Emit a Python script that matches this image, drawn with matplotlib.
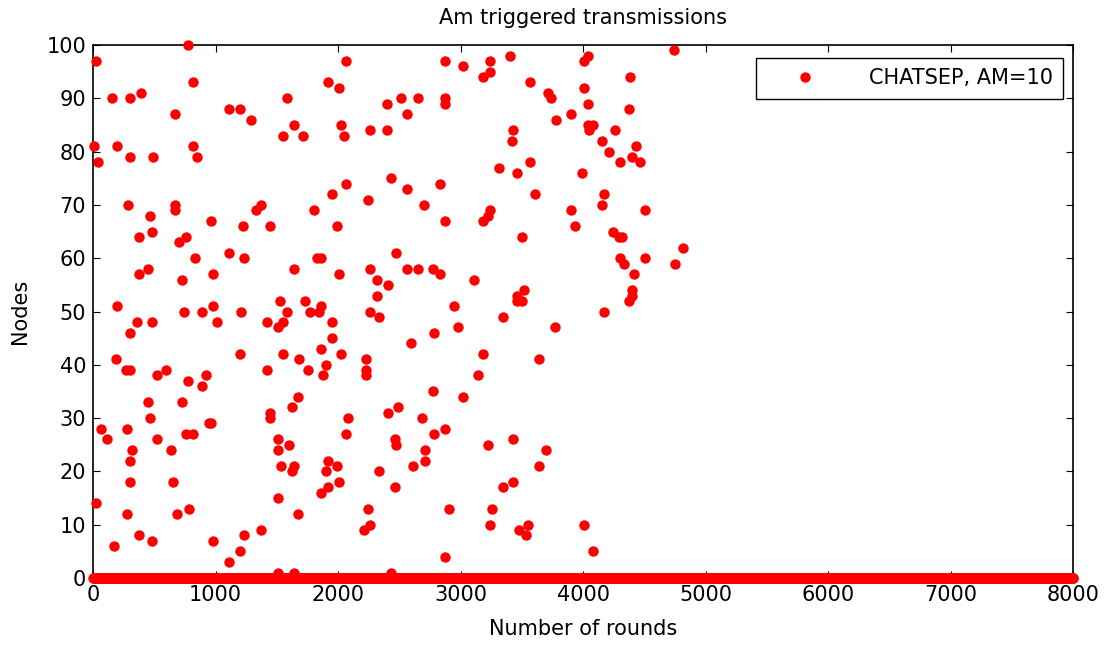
import numpy as np
import matplotlib.pyplot as plt

plt.rcParams['font.family'] = ['DejaVu Sans']

# rounds where an AM triggered transmission happened, and the node that sent it
rounds = [
    773, 24, 814, 158, 302, 392, 669, 1110, 1197, 8, 198, 814, 305, 492, 849, 38,
    288, 468, 669, 669, 963,
    1227, 378, 479, 702, 759, 833, 1110, 1235, 378, 449, 729, 980, 198, 743, 890,
    980, 1208, 362, 479, 1010, 305, 185, 270, 300, 522, 596, 773, 920, 890, 1200,
    452, 729, 65, 275, 465, 112, 522, 759, 819, 945, 965, 318, 639, 305, 305, 656,
    22, 275, 686, 786, 171, 378, 479, 980, 1110, 1200, 1235,
    2065, 1918, 2008, 1581, 1287, 2403, 1641, 1551, 1712, 2022, 2052, 2259, 2403,
    2433, 2065, 1951, 2242, 1374, 1330, 1804,
    1447, 1992, 1830, 1860, 2473, 1641, 2008, 2259, 2316, 2405, 2316, 1524, 1728,
    1584, 1771, 1847, 1861, 2259, 2332, 1420, 1553, 1508, 1951, 1951, 1553, 1684,
    1861, 2024, 1905, 2229, 2229, 2229, 1420, 1757, 1878, 1671,
    1624, 1447, 1447, 2082, 2065, 2405, 2490, 1508, 1508, 1597, 1537, 1641, 1624,
    1921, 1994, 1905, 2008, 1921, 1861, 2332, 2463, 2476, 2463, 1508, 1671, 2242,
    2259, 2212, 1374, 1508, 1641, 2433,
    2873, 3020, 3241, 3401, 3241, 3184, 3565, 3712, 3741, 2515, 2653, 2873, 2873,
    2566, 3431, 3418, 3317, 3565, 3464, 2566, 2833, 3611, 2699, 3241, 3227, 3184,
    2873,
    3505, 2566, 2653, 2773, 2833, 3110, 3521, 3461, 3461, 3505, 2949, 3344, 2977,
    3770, 2786, 2596, 3184, 3638, 3140, 2773, 3020,
    2683, 2873, 2786, 2713, 2713, 2612, 3227, 3431, 3698, 3638, 3431, 3344, 2904,
    3257, 3241, 3475, 3548, 3535, 2873,
    4038, 4006, 4740, 4386, 4006, 4038, 4373, 3902, 3780, 4040, 4080, 4050, 4259,
    4155, 4212, 4433, 4403, 4463, 4300, 3992, 4169, 4152, 3902, 4506,
    3932, 4242, 4297, 4318, 4816, 4300, 4332, 4506, 4753, 4419, 4403, 4403, 4373,
    4169, 4006, 4079,
]
nodes = [
    100, 97, 93, 90, 90, 91, 87, 88, 88, 81, 81, 81, 79, 79, 79, 78,
    70, 68, 70, 69, 67,
    66, 64, 65, 63, 64, 60, 61, 60, 57, 58, 56, 57, 51, 50, 50,
    51, 50, 48, 48, 48, 46, 41, 39, 39, 38, 39, 37, 38, 36, 42,
    33, 33, 28, 28, 30, 26, 26, 27, 27, 29, 29, 24, 24, 22, 18, 18,
    14, 12, 12, 13, 6, 8, 7, 7, 3, 5, 8,
    97, 93, 92, 90, 86, 89, 85, 83, 83, 85, 83, 84, 84,
    75, 74, 72, 71, 70, 69, 69,
    66, 66, 60, 60, 61, 58, 57, 58, 56, 55, 53, 52, 52,
    50, 50, 50, 51, 50, 49, 48, 48, 47, 48, 45, 42, 41,
    43, 42, 40, 41, 39, 38, 39, 39, 38, 34,
    32, 31, 30, 30, 27, 31, 32, 26, 24, 25, 21, 21, 20,
    22, 21, 20, 18, 17, 16, 20, 26, 25, 17, 15, 12, 13,
    10, 9, 9, 1, 1, 1,
    97, 96, 97, 98, 95, 94, 93, 91, 90, 90, 90, 90, 89,
    87, 84, 82, 77, 78, 76, 73, 74, 72, 70, 69, 68, 67,
    67,
    64, 58, 58, 58, 57, 56, 54, 53, 52, 52, 51, 49, 47,
    47, 46, 44, 42, 41, 38, 35, 34,
    30, 28, 27, 24, 22, 21, 25, 26, 24, 21, 18, 17, 13,
    13, 10, 9, 10, 8, 4,
    98, 97, 99, 94, 92, 89, 88, 87, 86, 85, 85, 84, 84,
    82, 80, 81, 79, 78, 78, 76, 72, 70, 69, 69,
    66, 65, 64, 64, 62, 60, 59, 60, 59, 57, 54, 53, 52,
    50, 10, 5,
]

# all the other rounds have node 0 (no trigger)
zero_rounds = np.arange(0, 8001, 4)

fig = plt.figure(figsize=(11.1, 6.46), dpi=100)
ax = fig.add_axes([0.0838, 0.1053, 0.8829, 0.825])

ax.plot(rounds + list(zero_rounds), nodes + [0] * len(zero_rounds),
        'o', color='#ff0000', markersize=7.5, markeredgewidth=0,
        clip_on=False, zorder=3, label='CHATSEP, AM=10')

ax.set_xlim(0, 8000)
ax.set_ylim(0, 100)
ax.set_xticks(np.arange(0, 8001, 1000))
ax.set_yticks(np.arange(0, 101, 10))
ax.tick_params(direction='in', top=True, right=True, labelsize=15, length=5, pad=5)
for s in ax.spines.values():
    s.set_linewidth(1.2)

ax.set_title('Am triggered transmissions', fontsize=15, pad=15)
ax.set_xlabel('Number of rounds', fontsize=15, labelpad=10)
ax.set_ylabel('Nodes', fontsize=15, labelpad=12)

leg = ax.legend(loc='upper right', fontsize=15, fancybox=False, edgecolor='black',
                framealpha=1, borderpad=0.5, handlelength=3.65, handletextpad=1.25,
                borderaxespad=0, bbox_to_anchor=(0.9898, 0.9756))
leg.get_frame().set_linewidth(1.0)

fig.savefig('out.png', dpi=100)
